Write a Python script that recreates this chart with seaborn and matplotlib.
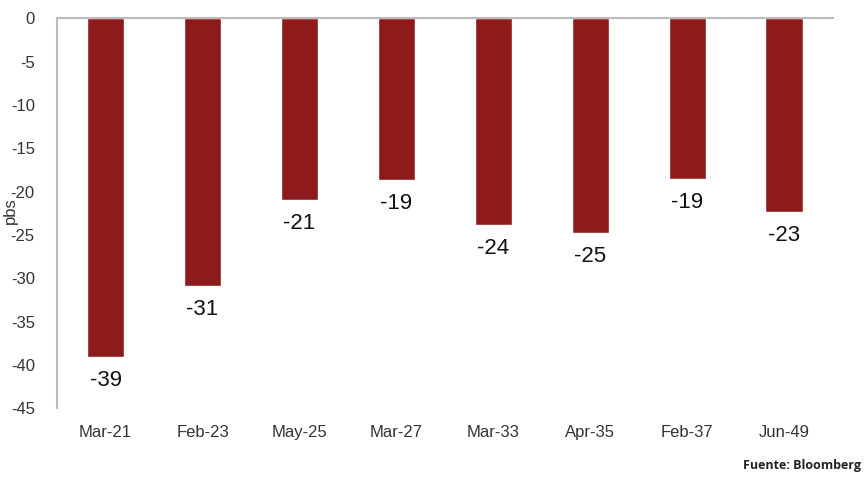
import pandas as pd
import matplotlib
matplotlib.use('Agg')
import matplotlib.pyplot as plt
import seaborn as sns

# data
bonos = ['Mar-21', 'Feb-23', 'May-25', 'Mar-27', 'Mar-33', 'Apr-35', 'Feb-37', 'Jun-49']
cambio = [-39.1, -30.9, -21.0, -18.7, -23.9, -24.8, -18.5, -22.4]
etiquetas = ['-39', '-31', '-21', '-19', '-24', '-25', '-19', '-23']

df = pd.DataFrame({'bono': bonos, 'pbs': cambio})

sns.set_style('white')
plt.rcParams['font.family'] = ['Liberation Sans', 'DejaVu Sans']
plt.rcParams['axes.unicode_minus'] = False

fig = plt.figure(figsize=(8.64, 4.78), dpi=100)
ax = fig.add_axes([0.066, 0.146, 0.898, 0.816])

sns.barplot(data=df, x='bono', y='pbs', color='#8E1B1B', saturation=1,
            width=0.39, ax=ax)

for i in range(df.shape[0]):
    ax.annotate(etiquetas[i], xy=(i, df.iloc[i]['pbs']), xytext=(0, -17),
                textcoords='offset points', ha='center', va='center',
                fontsize=16, color='#111111')

ax.set_ylim(-45, 0)
ax.set_xlim(-0.5, 7.5)
ax.set_yticks(range(-45, 1, 5))
ax.set_xlabel('')
ax.set_ylabel('')
ax.tick_params(axis='both', length=0, labelsize=12, labelcolor='#333333')
ax.tick_params(axis='y', pad=16)
ax.tick_params(axis='x', pad=12)

for s in ['right', 'bottom']:
    ax.spines[s].set_visible(False)
for s in ['top', 'left']:
    ax.spines[s].set_color('#BBBBBB')
    ax.spines[s].set_linewidth(1.5)

fig.text(0.012, 0.56, 'pbs', rotation=90, ha='center', va='center',
         fontsize=12, color='#333333')
fig.text(0.997, 0.027, 'Fuente: Bloomberg', ha='right', va='center',
         fontsize=9, fontweight='bold', color='#222222',
         family=['Open Sans', 'DejaVu Sans'])

fig.savefig('out.png', dpi=100)
